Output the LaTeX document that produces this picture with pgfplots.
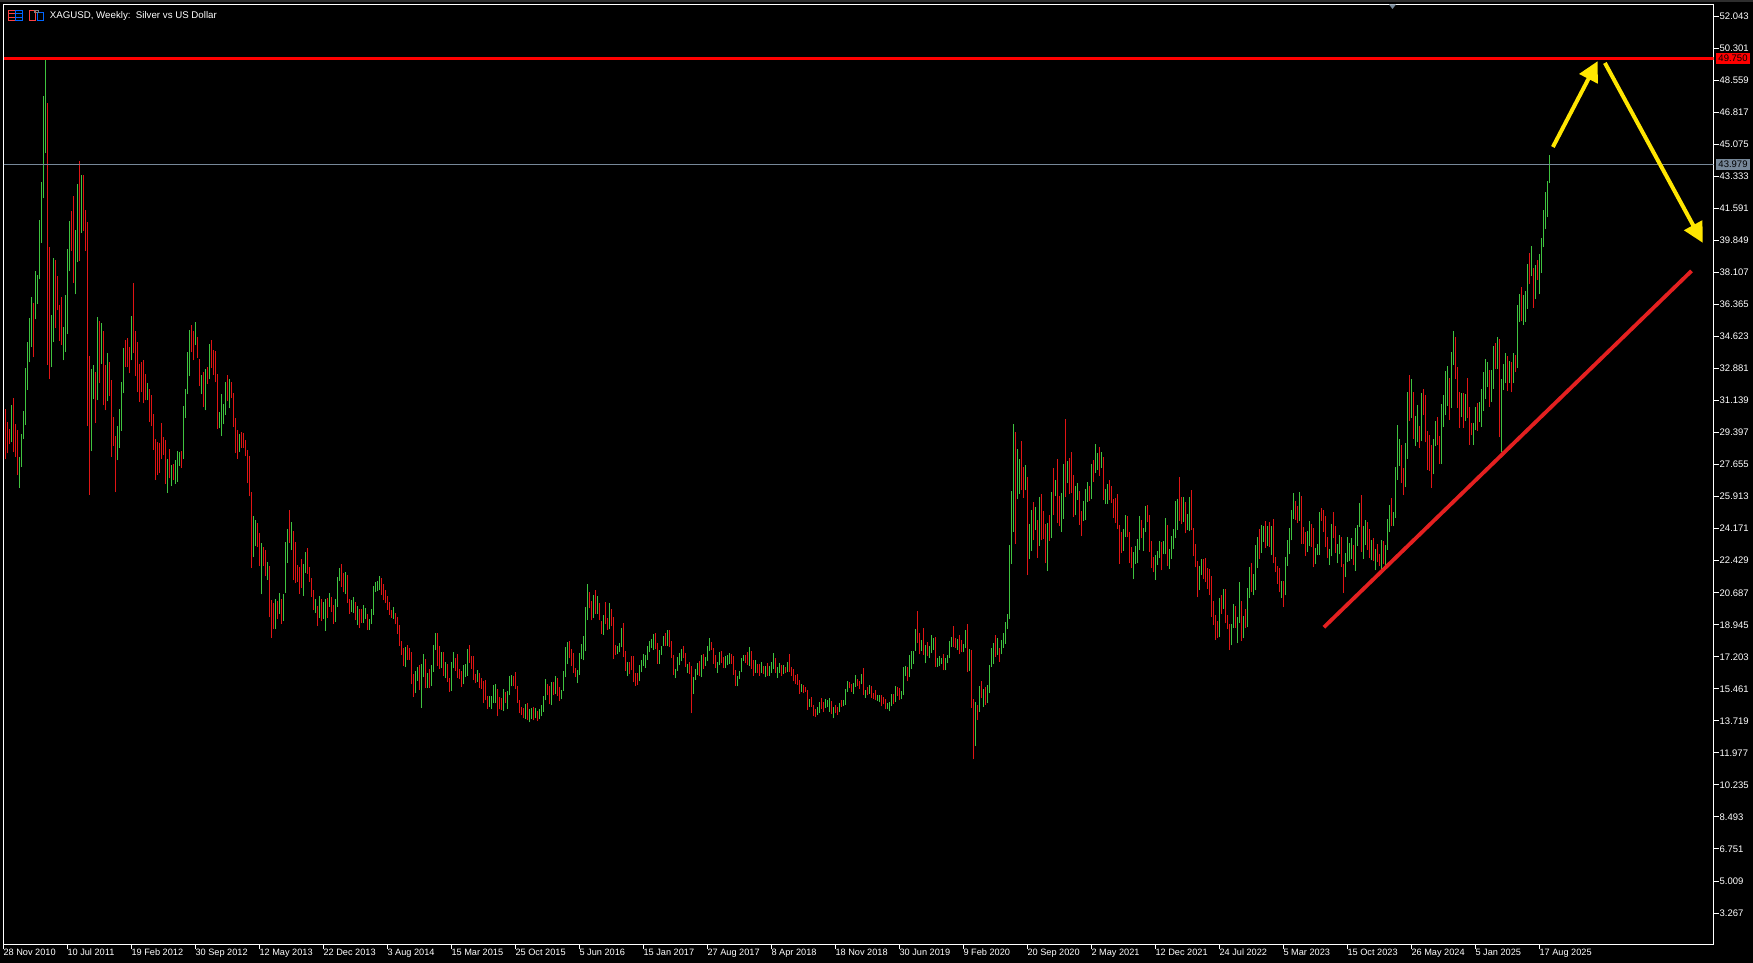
\documentclass[border=0pt]{standalone}
\usepackage{pgfplots}
\usepackage{pgfplotstable}
\usepackage{fontspec}
\setmainfont{Liberation Sans}
\pgfplotsset{compat=1.18}
\usetikzlibrary{arrows.meta}
\definecolor{barG}{HTML}{3FC33F}
\definecolor{barR}{HTML}{E01414}
\definecolor{slate}{HTML}{778899}
\definecolor{yel}{HTML}{FFE600}
\definecolor{trend}{HTML}{E42020}
\definecolor{strip}{HTML}{2E2E2E}
\pgfplotstableread{
i lo hi c
1 27.95 30.70 0
2 28.26 29.96 0
3 28.76 29.58 0
4 28.87 30.88 1
5 28.33 31.26 0
6 28.06 29.85 0
7 27.08 29.52 0
8 26.37 28.06 1
9 27.52 29.31 1
10 29.04 30.56 1
11 29.80 32.89 1
12 31.70 34.31 1
13 33.22 35.62 1
14 34.04 36.76 1
15 33.49 36.43 0
16 35.56 38.17 1
17 36.38 37.95 1
18 37.73 40.95 1
19 39.70 43.01 1
20 42.14 47.69 1
21 44.59 49.65 1
22 33.06 47.31 0
23 32.30 39.48 0
24 32.95 35.78 1
25 34.31 38.88 1
26 35.07 38.77 0
27 36.05 37.90 0
28 34.37 36.32 0
29 34.15 36.76 0
30 33.33 35.13 1
31 33.77 36.87 1
32 34.75 39.37 1
33 38.17 40.89 1
34 39.26 41.44 0
35 37.52 42.25 0
36 36.92 40.40 1
37 38.66 42.90 1
38 38.72 44.15 0
39 40.24 43.39 1
40 40.35 43.39 0
41 39.26 41.49 0
42 29.74 40.84 0
43 25.99 33.55 0
44 28.38 32.84 1
45 31.21 33.06 1
46 29.91 32.68 0
47 31.15 35.67 1
48 32.08 35.45 0
49 33.12 35.34 1
50 30.88 34.91 0
51 30.61 33.06 0
52 31.10 33.71 1
53 31.37 33.22 0
54 28.06 32.24 0
55 28.66 30.23 0
56 26.15 29.20 0
57 27.89 29.74 1
58 28.55 30.67 1
59 29.47 32.13 1
60 31.53 33.98 1
61 32.95 34.42 0
62 32.95 34.53 0
63 32.62 34.04 0
64 33.33 35.72 1
65 33.71 37.52 0
66 32.46 34.91 0
67 31.59 34.31 0
68 31.05 33.12 0
69 31.59 33.22 0
70 30.99 33.33 0
71 31.15 32.57 0
72 31.15 32.08 1
73 29.96 31.75 0
74 29.74 31.43 0
75 28.44 30.39 0
76 26.81 29.04 0
77 27.08 28.87 0
78 27.19 28.82 0
79 27.95 29.91 0
80 28.17 29.15 0
81 26.59 28.98 0
82 26.10 27.95 1
83 26.91 28.49 0
84 26.48 27.62 1
85 26.81 27.68 0
86 26.59 27.89 1
87 26.70 28.38 1
88 27.57 28.33 1
89 27.46 28.38 0
90 27.95 30.83 1
91 30.18 31.75 1
92 31.48 33.77 1
93 32.46 34.96 1
94 33.77 35.23 0
95 33.33 34.91 0
96 34.15 35.40 1
97 33.44 34.58 0
98 31.92 33.39 0
99 31.48 32.52 1
100 30.77 32.68 0
101 30.61 32.84 1
102 32.03 32.95 0
103 32.30 34.20 1
104 32.90 34.42 0
105 32.52 33.88 0
106 32.13 33.82 0
107 29.58 32.57 0
108 29.63 30.50 1
109 29.20 31.48 1
110 29.85 30.94 1
111 30.34 32.13 1
112 31.10 32.52 0
113 30.72 32.30 1
114 31.26 32.13 0
115 29.69 31.53 0
116 28.28 30.18 0
117 27.95 29.52 0
118 28.33 29.31 1
119 28.55 29.42 0
120 28.55 29.36 0
121 28.11 28.98 0
122 26.64 28.44 0
123 25.93 28.11 0
124 22.02 26.15 0
125 22.62 24.85 1
126 23.22 24.63 1
127 23.16 24.47 0
128 22.13 23.92 0
129 20.60 23.38 1
130 22.13 23.16 0
131 21.58 23.00 0
132 21.37 22.35 1
133 19.35 22.13 0
134 18.22 20.28 0
135 18.71 20.12 0
136 18.71 20.34 1
137 19.25 20.23 0
138 19.52 20.66 1
139 18.98 20.34 0
140 19.14 20.61 1
141 20.66 23.44 1
142 22.30 24.14 1
143 23.38 25.18 0
144 23.00 24.53 1
145 21.37 24.04 0
146 21.21 23.44 0
147 21.26 22.19 0
148 20.61 22.08 0
149 20.94 22.51 0
150 20.50 22.24 1
151 21.75 22.89 1
152 21.70 23.11 0
153 21.26 22.08 0
154 20.45 21.48 0
155 19.74 20.83 0
156 19.58 20.34 1
157 18.87 19.96 0
158 19.30 20.50 1
159 19.14 20.34 0
160 19.25 20.17 1
161 18.60 20.34 1
162 19.30 20.39 0
163 19.90 20.66 1
164 19.63 20.45 0
165 18.98 20.01 0
166 19.09 20.34 1
167 19.90 21.53 1
168 21.32 22.02 1
169 20.99 22.24 0
170 20.72 21.75 0
171 20.61 21.81 1
172 20.12 21.64 0
173 19.52 20.34 0
174 19.63 20.28 1
175 19.58 20.45 1
176 19.20 20.17 0
177 18.92 19.96 1
178 18.76 19.79 0
179 19.03 19.79 0
180 19.03 20.01 1
181 19.25 19.85 1
182 18.65 19.52 0
183 18.65 19.25 1
184 18.98 19.79 1
185 19.47 21.04 1
186 20.72 21.26 1
187 20.77 21.32 1
188 20.83 21.59 1
189 20.56 21.48 0
190 20.28 21.15 0
191 20.12 20.83 0
192 19.74 20.50 0
193 19.47 20.17 0
194 19.30 19.74 0
195 19.25 19.90 1
196 18.98 19.58 0
197 18.43 19.36 0
198 17.78 18.92 0
199 17.29 18.05 0
200 16.69 17.67 0
201 16.64 17.73 1
202 17.02 17.84 0
203 17.02 17.67 0
204 15.71 17.45 0
205 15.01 16.26 0
206 15.22 16.42 1
207 15.88 16.64 1
208 15.39 16.75 0
209 14.41 16.80 1
210 16.09 17.35 1
211 15.50 17.07 0
212 15.50 16.31 1
213 15.50 16.53 0
214 15.61 16.75 1
215 16.37 17.84 1
216 17.56 18.49 1
217 16.69 18.49 0
218 16.53 17.78 0
219 16.58 17.45 1
220 16.15 17.45 0
221 16.04 16.91 1
222 15.82 16.80 0
223 15.28 16.04 0
224 15.33 16.91 1
225 16.58 17.45 1
226 16.42 17.13 0
227 16.04 17.35 0
228 15.99 16.53 0
229 15.55 16.42 0
230 15.71 16.75 1
231 16.09 16.80 1
232 16.15 17.62 1
233 16.86 17.84 0
234 16.53 17.24 0
235 15.93 17.24 0
236 15.77 16.26 0
237 15.82 16.48 1
238 15.50 16.31 0
239 15.44 16.04 0
240 14.68 15.88 0
241 14.84 15.93 0
242 14.35 15.06 0
243 14.46 15.06 1
244 14.35 15.06 1
245 14.68 15.66 1
246 14.68 15.71 1
247 13.97 15.44 0
248 14.35 15.00 0
249 14.30 14.95 0
250 14.24 15.44 1
251 14.68 15.27 0
252 14.35 15.33 1
253 15.11 16.14 1
254 15.60 16.20 1
255 15.60 16.14 0
256 15.44 16.36 0
257 14.68 15.60 0
258 14.13 14.84 0
259 14.02 14.46 0
260 13.86 14.40 0
261 13.81 14.62 1
262 13.75 14.68 0
263 13.64 14.35 1
264 13.81 14.40 1
265 13.75 14.46 0
266 13.86 14.40 1
267 13.70 14.24 0
268 13.81 14.35 1
269 13.97 14.57 1
270 14.19 15.06 1
271 14.84 15.98 1
272 15.11 15.71 0
273 14.62 15.60 0
274 14.57 15.82 1
275 15.11 15.82 0
276 15.17 16.14 1
277 15.06 16.03 0
278 14.79 15.55 0
279 14.89 15.38 1
280 15.33 16.42 1
281 16.09 17.72 1
282 16.80 18.00 1
283 17.12 18.05 0
284 16.69 17.61 0
285 16.31 17.40 0
286 16.09 16.58 0
287 15.76 16.47 1
288 16.20 17.40 1
289 17.07 17.89 1
290 17.01 18.32 1
291 17.50 19.90 1
292 19.19 21.15 1
293 19.84 20.71 0
294 19.19 20.22 0
295 19.30 20.55 1
296 19.52 20.82 0
297 19.52 20.50 1
298 19.19 20.12 0
299 18.43 19.14 0
300 18.38 19.46 1
301 18.97 20.17 0
302 18.65 19.30 0
303 18.70 20.12 1
304 18.86 19.79 0
305 17.07 19.35 0
306 17.29 17.83 0
307 17.34 17.78 1
308 17.45 17.94 1
309 17.72 18.76 1
310 17.18 19.03 0
311 16.42 17.50 0
312 16.14 16.91 1
313 16.25 16.91 0
314 16.47 17.23 0
315 15.82 17.23 0
316 15.60 16.31 0
317 15.66 16.31 0
318 15.87 16.74 1
319 16.36 17.01 1
320 16.69 17.34 1
321 16.58 17.29 1
322 17.01 17.78 1
323 17.45 18.05 1
324 17.67 18.16 1
325 17.56 18.43 1
326 17.61 18.48 0
327 16.80 17.94 0
328 16.80 17.56 1
329 17.29 17.78 1
330 17.78 18.32 1
331 17.78 18.48 0
332 17.78 18.65 1
333 17.72 18.65 0
334 17.12 18.05 0
335 16.20 17.29 0
336 16.03 16.53 1
337 16.42 17.18 1
338 16.74 17.40 1
339 16.96 17.61 1
340 17.12 17.78 0
341 16.63 17.40 0
342 16.31 16.80 1
343 16.25 16.91 0
344 14.13 16.69 0
345 15.17 16.09 1
346 15.93 16.53 1
347 16.20 16.85 1
348 16.14 16.96 0
349 16.09 17.29 1
350 16.53 17.34 0
351 16.69 17.18 1
352 16.96 17.78 1
353 17.50 18.21 1
354 17.56 17.99 0
355 16.80 17.67 0
356 16.58 17.29 0
357 16.31 16.91 1
358 16.74 17.45 1
359 16.85 17.51 0
360 16.58 17.18 0
361 16.58 17.23 1
362 16.74 17.29 1
363 16.80 17.40 1
364 16.80 17.34 0
365 16.20 17.23 0
366 15.60 16.47 0
367 15.60 16.15 1
368 15.98 16.42 1
369 16.36 17.13 1
370 16.96 17.29 1
371 16.85 17.29 0
372 16.74 17.45 0
373 16.69 17.72 1
374 16.53 17.51 0
375 16.15 17.02 0
376 16.31 17.02 1
377 16.31 16.80 0
378 16.15 16.80 0
379 16.31 16.91 1
380 16.25 16.69 0
381 16.09 16.69 1
382 16.15 16.85 0
383 16.15 16.69 1
384 16.31 16.91 1
385 16.53 17.40 1
386 16.31 17.13 0
387 16.04 16.64 1
388 16.31 16.85 1
389 16.15 16.74 0
390 16.25 16.74 1
391 16.31 16.64 0
392 16.36 16.91 1
393 16.36 17.34 0
394 16.15 16.64 0
395 15.87 16.53 0
396 15.71 16.20 0
397 15.66 16.25 0
398 15.17 15.93 0
399 15.28 15.71 1
400 15.22 15.66 0
401 15.28 15.55 0
402 14.30 15.38 0
403 14.46 14.89 1
404 14.46 15.00 0
405 13.97 14.57 0
406 13.92 14.35 0
407 14.03 14.46 1
408 14.13 14.73 1
409 14.35 14.95 0
410 14.19 14.73 0
411 14.41 14.89 1
412 14.46 14.84 1
413 14.19 14.95 1
414 14.08 14.79 0
415 13.86 14.46 1
416 14.13 14.57 0
417 14.03 14.46 0
418 14.19 14.68 1
419 14.46 14.84 0
420 14.51 14.84 1
421 14.57 15.44 1
422 15.28 15.87 1
423 15.49 15.82 0
424 15.28 15.71 0
425 15.17 15.77 1
426 15.55 16.20 1
427 15.60 15.98 0
428 15.44 15.87 0
429 15.71 16.25 1
430 15.11 16.58 0
431 14.95 15.38 1
432 15.11 15.55 0
433 15.17 15.66 1
434 14.95 15.60 0
435 14.89 15.22 0
436 14.84 15.38 0
437 14.79 15.11 1
438 14.73 15.11 1
439 14.51 15.11 0
440 14.62 15.00 0
441 14.35 14.89 0
442 14.35 14.68 1
443 14.24 14.73 1
444 14.51 15.17 1
445 14.62 15.17 0
446 14.73 15.60 1
447 15.06 15.55 0
448 14.84 15.49 0
449 14.89 15.33 1
450 15.11 16.64 1
451 16.15 16.69 1
452 15.87 16.64 0
453 16.09 17.29 1
454 16.53 17.51 1
455 16.80 17.51 1
456 17.51 18.70 1
457 17.94 19.68 0
458 17.34 18.49 0
459 17.51 18.10 1
460 17.29 18.76 0
461 16.85 17.83 1
462 17.23 17.99 0
463 17.13 17.78 1
464 17.40 18.38 1
465 17.56 18.21 1
466 16.64 18.27 0
467 16.64 17.13 1
468 16.69 17.23 1
469 16.80 17.13 1
470 16.47 17.34 0
471 16.47 17.13 1
472 16.85 17.29 1
473 17.13 18.05 1
474 17.72 18.27 1
475 17.72 18.87 0
476 17.67 18.21 0
477 17.56 18.16 1
478 17.34 18.38 0
479 17.45 18.11 0
480 17.45 17.89 1
481 17.67 18.65 1
482 16.36 18.98 0
483 16.42 17.62 1
484 14.41 17.56 0
485 11.63 14.90 0
486 12.34 14.73 1
487 13.75 14.57 0
488 14.19 15.60 1
489 14.95 15.87 0
490 14.46 15.44 1
491 14.57 15.55 0
492 14.68 15.66 1
493 15.22 16.75 1
494 16.64 17.67 1
495 16.80 17.94 1
496 17.18 18.38 0
497 17.29 18.21 1
498 16.91 17.67 0
499 17.34 18.11 1
500 17.67 18.49 1
501 17.89 19.09 1
502 18.70 19.52 1
503 19.25 23.27 1
504 22.24 26.21 1
505 23.98 29.85 1
506 23.33 29.42 0
507 25.77 28.49 1
508 26.05 27.95 1
509 26.26 28.93 0
510 25.83 27.51 0
511 26.26 27.62 1
512 21.64 26.97 0
513 22.51 24.41 1
514 22.95 25.18 1
515 23.54 25.61 0
516 24.09 25.34 1
517 22.57 24.63 0
518 23.22 25.88 1
519 23.54 26.05 0
520 23.60 25.12 0
521 22.29 24.41 0
522 21.86 24.47 1
523 23.49 24.90 0
524 23.65 26.16 1
525 24.90 27.46 0
526 25.94 26.81 1
527 24.47 27.95 0
528 24.31 25.94 0
529 23.98 26.10 1
530 24.69 27.68 1
531 25.88 30.13 0
532 26.64 27.84 1
533 26.05 28.00 0
534 26.10 28.33 0
535 24.80 27.08 0
536 24.90 26.48 1
537 25.72 26.64 1
538 24.36 26.21 0
539 23.76 25.12 0
540 24.58 25.67 1
541 24.63 26.32 1
542 25.61 26.70 1
543 25.67 26.48 0
544 25.77 27.68 1
545 26.70 27.90 0
546 27.19 28.77 1
547 27.35 28.28 1
548 27.03 28.60 0
549 27.46 28.33 1
550 25.72 28.06 0
551 25.50 26.32 1
552 25.50 26.59 1
553 25.72 26.81 0
554 25.56 26.48 0
555 24.74 25.77 0
556 24.47 25.83 0
557 24.14 26.05 0
558 22.24 24.36 0
559 22.84 23.98 0
560 22.95 24.14 1
561 23.71 24.90 1
562 23.71 24.85 0
563 22.29 23.98 0
564 22.02 23.16 0
565 21.42 22.89 1
566 22.24 23.22 1
567 22.29 23.60 1
568 23.00 24.85 1
569 23.65 24.63 0
570 22.95 24.20 1
571 23.98 25.39 1
572 24.52 25.45 0
573 22.89 24.90 0
574 22.02 23.49 0
575 21.80 22.62 0
576 21.37 22.73 1
577 22.19 22.95 1
578 22.57 23.49 1
579 21.91 23.44 0
580 22.78 23.49 1
581 22.78 24.74 1
582 22.13 24.36 0
583 21.97 23.05 1
584 22.51 23.76 1
585 23.05 24.14 1
586 23.65 25.67 1
587 24.09 25.77 1
588 24.58 26.97 0
589 24.41 25.88 0
590 24.52 25.88 1
591 23.92 25.61 0
592 24.09 24.96 1
593 24.03 25.88 1
594 24.09 26.26 0
595 22.67 24.20 0
596 22.07 23.33 0
597 20.44 22.40 0
598 20.82 22.13 1
599 21.64 22.51 1
600 21.42 22.51 0
601 21.26 22.57 0
602 20.88 22.02 0
603 20.55 21.97 0
604 19.36 21.59 0
605 18.92 20.23 0
606 18.11 19.47 0
607 18.21 19.14 0
608 18.27 20.39 1
609 19.52 20.55 0
610 19.79 20.88 1
611 19.03 20.88 0
612 18.70 19.47 0
613 17.56 18.98 0
614 17.83 18.98 1
615 18.76 20.06 1
616 18.76 19.95 0
617 17.94 19.36 1
618 19.03 21.26 1
619 18.05 20.23 0
620 18.21 19.41 1
621 18.76 19.79 0
622 18.81 20.93 1
623 20.39 22.07 1
624 20.71 22.29 0
625 20.55 21.69 1
626 20.82 23.27 1
627 22.02 23.71 1
628 22.51 24.14 0
629 22.84 24.36 1
630 23.44 24.31 1
631 23.11 24.58 0
632 23.22 24.31 1
633 23.16 24.52 0
634 22.73 24.31 1
635 22.29 24.69 0
636 21.80 22.62 0
637 21.15 22.13 0
638 20.71 22.02 0
639 20.39 21.31 1
640 19.90 21.31 0
641 20.55 22.62 1
642 22.13 23.54 1
643 22.78 24.20 1
644 23.54 25.18 1
645 24.69 26.10 1
646 24.63 25.67 0
647 24.47 25.39 0
648 24.58 26.16 1
649 23.33 25.94 0
650 23.33 24.25 0
651 22.67 23.98 0
652 22.89 24.03 1
653 23.22 24.58 1
654 23.16 24.41 0
655 22.07 24.20 0
656 22.24 23.11 1
657 22.73 23.32 1
658 22.73 25.07 1
659 24.58 25.28 0
660 23.98 25.17 0
661 23.16 24.85 0
662 22.56 23.71 0
663 22.18 23.05 1
664 22.67 24.41 1
665 23.65 25.07 0
666 22.84 24.30 0
667 22.29 23.32 1
668 22.78 23.81 1
669 22.07 23.71 0
670 20.66 22.24 0
671 21.53 22.84 1
672 22.35 23.71 1
673 22.40 23.38 1
674 22.51 23.65 1
675 22.18 23.27 0
676 21.86 24.20 1
677 23.22 24.36 1
678 24.25 25.55 1
679 22.89 25.99 0
680 22.51 24.30 1
681 23.27 24.63 1
682 23.00 24.52 0
683 22.56 24.14 0
684 22.45 23.54 1
685 22.40 23.65 0
686 21.91 23.05 1
687 22.35 23.32 0
688 22.13 22.78 0
689 21.97 23.54 1
690 22.24 23.49 0
691 22.18 23.27 1
692 23.00 24.68 1
693 23.98 25.45 1
694 24.30 25.83 0
695 24.30 25.07 1
696 24.74 27.51 1
697 26.81 29.80 1
698 27.57 29.04 1
699 26.64 28.71 0
700 25.99 27.46 0
701 26.43 28.82 1
702 27.95 31.59 1
703 30.02 32.52 0
704 30.18 32.30 1
705 29.04 31.59 0
706 28.66 30.29 1
707 28.87 30.89 1
708 28.55 29.74 0
709 28.93 31.54 1
710 30.34 31.76 0
711 28.87 31.43 0
712 27.35 29.47 0
713 27.30 29.25 0
714 26.37 28.71 0
715 27.13 29.04 1
716 28.66 30.02 1
717 28.71 30.23 0
718 27.68 29.20 0
719 27.68 30.94 1
720 29.69 31.43 1
721 30.34 32.74 1
722 30.83 33.01 1
723 30.07 32.35 0
724 30.72 33.77 1
725 33.06 34.91 1
726 32.30 34.58 0
727 30.72 32.95 0
728 29.64 31.59 0
729 30.23 31.54 1
730 29.64 31.54 0
731 30.02 31.48 1
732 30.18 32.35 0
733 28.71 30.78 0
734 29.25 29.91 0
735 28.71 29.91 1
736 29.53 30.78 1
737 29.47 31.00 0
738 29.96 31.05 1
739 29.69 31.76 1
740 30.56 32.68 1
741 31.21 33.39 1
742 31.87 33.22 1
743 30.78 32.79 0
744 31.05 32.79 1
745 31.76 34.10 1
746 32.85 34.26 0
747 32.85 34.58 1
748 29.15 34.48 0
749 28.33 32.30 1
750 31.70 33.12 1
751 32.08 33.71 1
752 31.65 33.55 0
753 32.08 33.28 1
754 31.59 33.22 0
755 32.08 33.71 1
756 32.68 33.61 0
757 32.90 36.33 1
758 35.40 36.92 1
759 35.45 37.30 0
760 35.24 36.87 1
761 35.40 37.09 1
762 36.11 38.56 1
763 37.47 39.15 0
764 37.90 39.53 1
765 36.16 38.34 0
766 36.65 38.50 1
767 37.69 38.77 0
768 36.92 39.10 1
769 38.07 39.97 1
770 39.48 41.49 1
771 40.46 42.47 1
772 41.11 43.07 1
773 42.96 44.48 1
}\bars
\begin{document}
\begin{tikzpicture}
\begin{scope}[shift={(-1.75pt,472.25pt)},x=0.5pt,y=-0.5pt]
\fill[black] (0,0) rectangle (1753,963);
\fill[strip] (0,0) rectangle (1753,2.5);
\end{scope}
\begin{axis}[
  at={(0pt,0pt)},anchor=south west,
  scale only axis,width=855pt,height=470pt,
  xmin=0,xmax=855,ymin=1.557,ymax=52.68,
  axis line style={white,line width=0.5pt},
  tick align=outside,major tick length=2.5pt,
  tick style={white,line width=0.5pt},
  ytick pos=right,yticklabel pos=right,xtick pos=bottom,
  xtick={0,32,64,96,128,160,192,224,256,288,320,352,384,416,448,480,512,544,576,608,640,672,704,736,768},
  xticklabels={28 Nov 2010,10 Jul 2011,19 Feb 2012,30 Sep 2012,12 May 2013,22 Dec 2013,3 Aug 2014,15 Mar 2015,25 Oct 2015,5 Jun 2016,15 Jan 2017,27 Aug 2017,8 Apr 2018,18 Nov 2018,30 Jun 2019,9 Feb 2020,20 Sep 2020,2 May 2021,12 Dec 2021,24 Jul 2022,5 Mar 2023,15 Oct 2023,26 May 2024,5 Jan 2025,17 Aug 2025},
  ytick={3.267,5.009,6.751,8.493,10.235,11.977,13.719,15.461,17.203,18.945,20.687,22.429,24.171,25.913,27.655,29.397,31.139,32.881,34.623,36.365,38.107,39.849,41.591,43.333,45.075,46.817,48.559,50.301,52.043},
  yticklabels={3.267,5.009,6.751,8.493,10.235,11.977,13.719,15.461,17.203,18.945,20.687,22.429,24.171,25.913,27.655,29.397,31.139,32.881,34.623,36.365,38.107,39.849,41.591,43.333,45.075,46.817,48.559,50.301,52.043},
  xticklabel style={anchor=north west,inner sep=0pt,text=white,font=\fontsize{4.6}{5}\selectfont,xshift=-0.2pt,yshift=0.4pt},
  yticklabel style={anchor=west,inner sep=0pt,text=white,font=\fontsize{4.75}{5}\selectfont,xshift=0.4pt},
]
\addplot[draw=none,mark=none,forget plot,error bars/.cd,y dir=plus,y explicit,error mark=none,error bar style={draw=barG,line width=0.5pt,solid}]
  table[x expr={\thisrow{c}==1?\thisrow{i}:nan},y=lo,y error plus expr={\thisrow{hi}-\thisrow{lo}}] {\bars};
\addplot[draw=none,mark=none,forget plot,error bars/.cd,y dir=plus,y explicit,error mark=none,error bar style={draw=barR,line width=0.5pt,solid}]
  table[x expr={\thisrow{c}==0?\thisrow{i}:nan},y=lo,y error plus expr={\thisrow{hi}-\thisrow{lo}}] {\bars};
\addplot[slate,line width=0.5pt] coordinates {(0,43.979)(855,43.979)};
\addplot[red,line width=1.35pt] coordinates {(0,49.75)(855,49.75)};
\addplot[trend,line width=1.9pt] coordinates {(660.2,18.81)(844,38.19)};
\addplot[yel,line width=2pt,-{Triangle[length=10pt,width=10pt]}] coordinates {(774.7,44.93)(797.1,49.6)};
\addplot[yel,line width=2pt,-{Triangle[length=10pt,width=10pt]}] coordinates {(800.7,49.5)(849.6,39.72)};
\end{axis}
\begin{scope}[shift={(-1.75pt,472.25pt)},x=0.5pt,y=-0.5pt]
\fill[red] (1716,53) rectangle (1750,63.7);
\node[text=black,inner sep=0pt,font=\fontsize{4.75}{5}\selectfont] at (1733,58.5) {49.750};
\fill[slate] (1716,159.3) rectangle (1750,170);
\node[text=black,inner sep=0pt,font=\fontsize{4.75}{5}\selectfont] at (1733,164.7) {43.979};
\node[anchor=west,text=white,inner sep=0pt,font=\fontsize{4.85}{5}\selectfont] at (49.5,15.7) {XAGUSD, Weekly:\ \ Silver vs US Dollar};
\draw[red!75!white,line width=0.5pt] (8.5,10.5) rectangle (15.5,20.5);
\draw[blue!60!cyan,line width=0.5pt] (15.5,10.5) rectangle (22.5,20.5);
\draw[red!75!white,line width=0.5pt] (9,13.8)--(15,13.8) (9,17.2)--(15,17.2);
\draw[blue!60!cyan,line width=0.5pt] (16,13.8)--(22,13.8) (16,17.2)--(22,17.2);
\draw[red!75!white,line width=0.5pt] (29.5,10.5) rectangle (35.5,20.5);
\draw[blue!60!cyan,line width=0.5pt] (37.5,12.5) rectangle (43.5,20.5);
\draw[gray,line width=0.5pt] (34.5,10.5) rectangle (38.5,13);
\fill[slate] (1389,4.5)--(1396,4.5)--(1392.5,9)--cycle;
\end{scope}
\end{tikzpicture}
\end{document}
